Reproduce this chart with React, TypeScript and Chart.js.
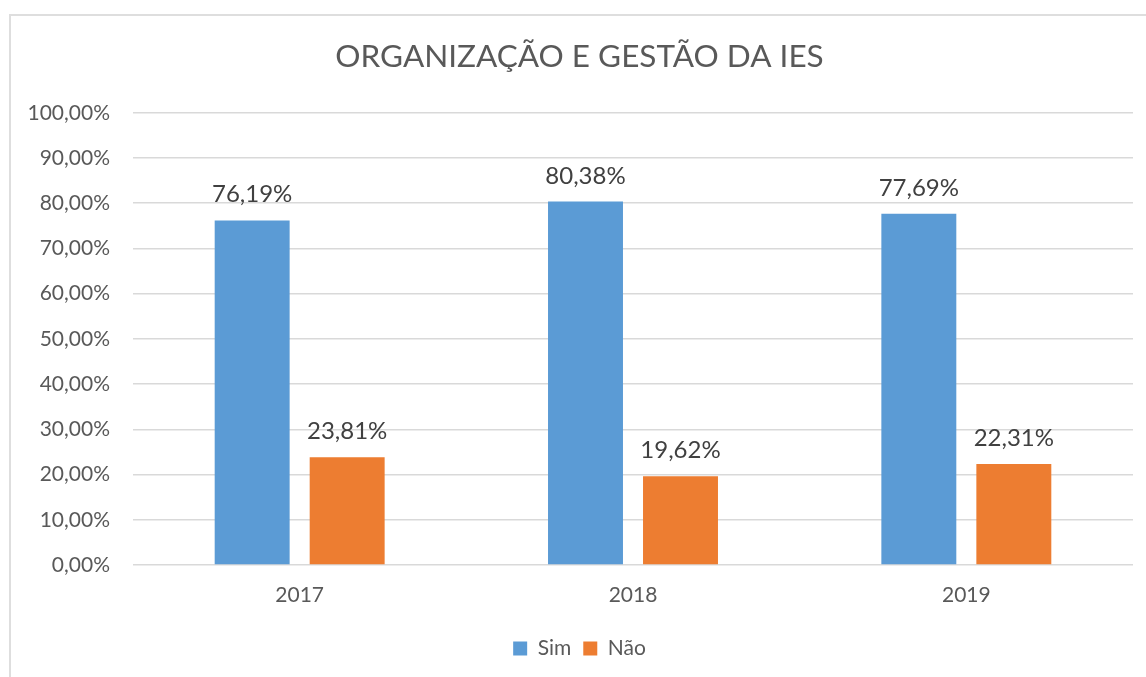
import React, { useEffect, useRef } from "react";
import { Chart, registerables } from "chart.js";

Chart.register(...registerables);

const categories = ["2017", "2018", "2019"];
const simValues = [76.19, 80.38, 77.69];
const naoValues = [23.81, 19.62, 22.31];
const seriesNames = ["Sim", "Não"];
const titleText = "ORGANIZAÇÃO E GESTÃO DA IES";

const FONT = "Lato, 'Open Sans', sans-serif";

const fmt = (v: number) => v.toFixed(2).replace(".", ",") + "%";

const dataLabels = {
  id: "dataLabels",
  afterDatasetsDraw(chart: any) {
    const ctx = chart.ctx;
    ctx.save();
    ctx.font = `24px ${FONT}`;
    ctx.fillStyle = "#404040";
    ctx.textAlign = "center";
    ctx.textBaseline = "alphabetic";
    chart.data.datasets.forEach((ds: any, i: number) => {
      const meta = chart.getDatasetMeta(i);
      meta.data.forEach((bar: any, j: number) => {
        ctx.fillText(fmt(ds.data[j]), bar.x, bar.y - 18);
      });
    });
    ctx.restore();
  },
};

export default function App() {
  const ref = useRef<HTMLCanvasElement | null>(null);
  useEffect(() => {
    if (!ref.current) return;
    const chart = new Chart(ref.current, {
      type: "bar",
      data: {
        labels: categories,
        datasets: [
          {
            label: seriesNames[0],
            data: simValues,
            backgroundColor: "#5B9BD5",
            categoryPercentage: 0.57,
            barPercentage: 0.789,
          },
          {
            label: seriesNames[1],
            data: naoValues,
            backgroundColor: "#ED7D31",
            categoryPercentage: 0.57,
            barPercentage: 0.789,
          },
        ],
      },
      options: {
        animation: false,
        responsive: false,
        layout: { padding: { left: 26, right: 37, top: 0, bottom: 8 } },
        plugins: {
          title: {
            display: true,
            text: titleText,
            color: "#595959",
            font: { family: FONT, size: 31.5, weight: "normal" },
            padding: { top: 38, bottom: 37 },
          },
          legend: {
            position: "bottom",
            labels: {
              color: "#595959",
              font: { family: FONT, size: 21 },
              boxWidth: 14,
              boxHeight: 14,
              padding: 12,
            },
          },
          tooltip: { enabled: false },
        },
        scales: {
          x: {
            grid: { display: false },
            border: { display: false },
            ticks: {
              color: "#595959",
              font: { family: FONT, size: 21 },
              padding: 10,
            },
            afterFit: (s: any) => {
              s.height = 61;
            },
          },
          y: {
            min: 0,
            max: 100,
            grid: { color: "#d9d9d9", lineWidth: 1.5, drawTicks: false },
            border: { display: false },
            ticks: {
              stepSize: 10,
              color: "#595959",
              font: { family: FONT, size: 21 },
              padding: 23,
              callback: (v: any) => fmt(Number(v)),
            },
            afterFit: (s: any) => {
              s.width = 107;
            },
          },
        },
      },
      plugins: [dataLabels],
    });
    return () => chart.destroy();
  }, []);
  return (
    <div style={{ position: "fixed", left: 0, top: 0, width: 1146, height: 677, overflow: "hidden", background: "#fff" }}>
      <div style={{ position: "absolute", left: 9, top: 14, width: 1200, height: 700, border: "2px solid #dedede", boxSizing: "border-box" }} />
      <canvas ref={ref} width={1170} height={677} style={{ position: "absolute", left: 0, top: 0, width: 1170, height: 677 }} />
    </div>
  );
}
